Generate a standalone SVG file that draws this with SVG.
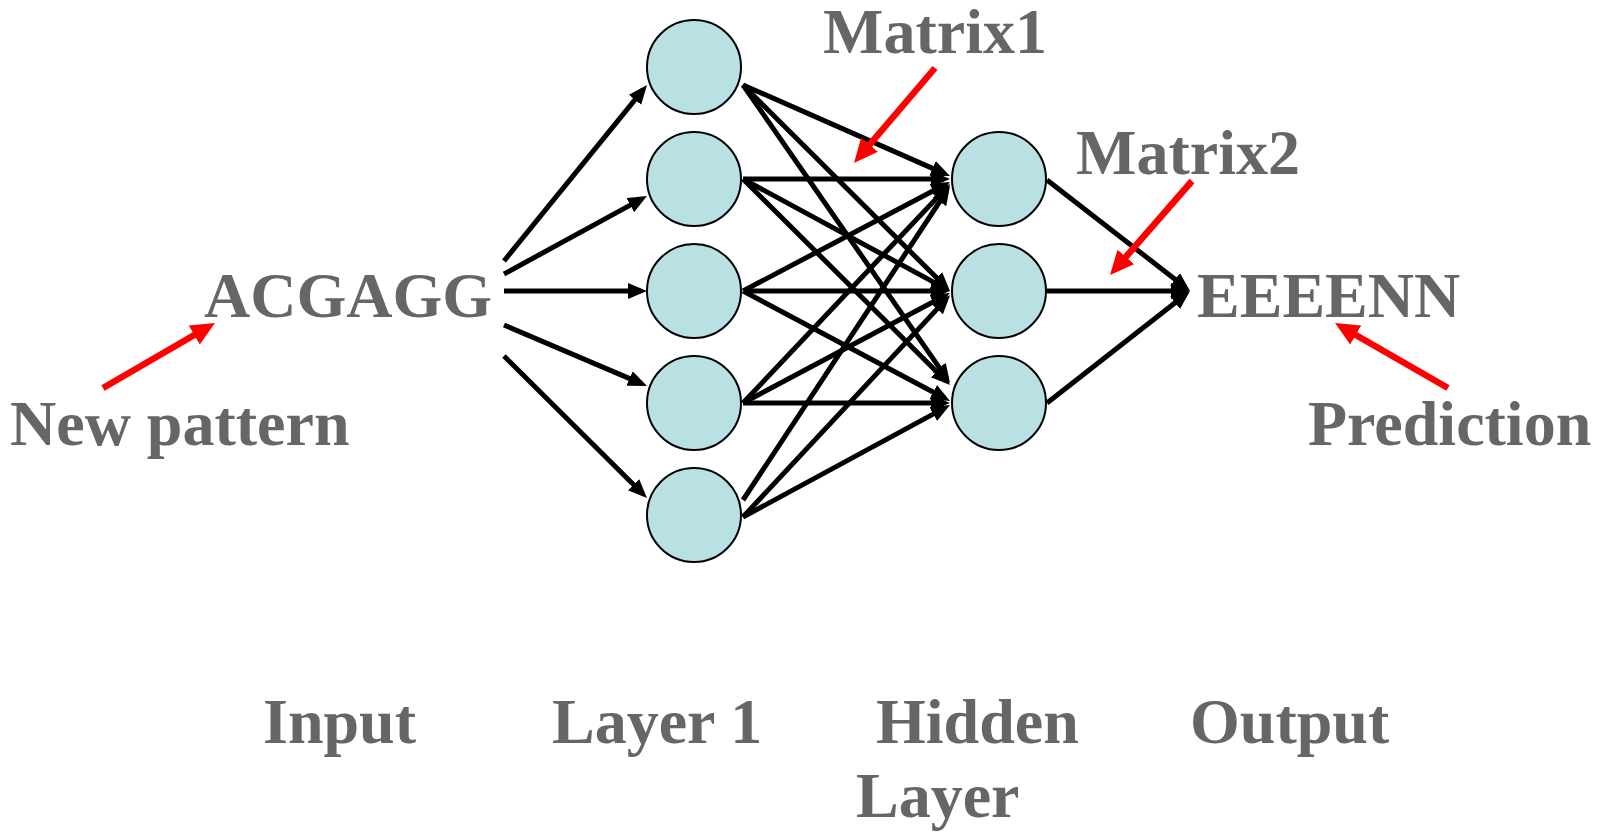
<svg xmlns="http://www.w3.org/2000/svg" width="1602" height="832" viewBox="0 0 1602 832">
<style>
.bg{fill:#ffffff}
.node{fill:#b9e0e3;stroke:#000000;stroke-width:2}
.lbl{font-family:"Liberation Serif","Times New Roman",serif;font-weight:bold;font-size:64px;fill:#666666}
.edge{stroke:#000000;stroke-width:5;fill:none;marker-end:url(#ah)}
.note{stroke:#ff0000;stroke-width:6.5;fill:none;marker-end:url(#rh)}
</style>
<defs>
<marker id="ah" markerUnits="userSpaceOnUse" markerWidth="22" markerHeight="18" refX="13" refY="8" orient="auto"><path d="M0,0 L19,8 L0,16 z" fill="#000000"/></marker>
<marker id="rh" markerUnits="userSpaceOnUse" markerWidth="26" markerHeight="24" refX="16" refY="11" orient="auto"><path d="M0,0 L24,11 L0,22 z" fill="#ff0000"/></marker>
</defs>
<rect class="bg" x="0" y="0" width="1602" height="832"/>
<g id="connectors">
<line class="edge" x1="504" y1="261" x2="643.2" y2="89.7"/>
<line class="edge" x1="504" y1="274" x2="641.7" y2="198.9"/>
<line class="edge" x1="504" y1="291" x2="641" y2="291"/>
<line class="edge" x1="504" y1="325" x2="641.5" y2="383.6"/>
<line class="edge" x1="504" y1="356" x2="642.7" y2="493.8"/>
<line class="edge" x1="743" y1="85" x2="944.5" y2="173.6"/>
<line class="edge" x1="743" y1="85" x2="945.7" y2="286.8"/>
<line class="edge" x1="743" y1="85" x2="946.6" y2="378.1"/>
<line class="edge" x1="743" y1="179" x2="944" y2="179"/>
<line class="edge" x1="743" y1="179" x2="944.7" y2="288.1"/>
<line class="edge" x1="743" y1="179" x2="945.7" y2="380.8"/>
<line class="edge" x1="743" y1="291" x2="944.7" y2="184.8"/>
<line class="edge" x1="743" y1="291" x2="944" y2="291"/>
<line class="edge" x1="743" y1="291" x2="944.7" y2="398.2"/>
<line class="edge" x1="743" y1="403" x2="945.9" y2="188.4"/>
<line class="edge" x1="743" y1="403" x2="944.7" y2="295.8"/>
<line class="edge" x1="743" y1="403" x2="944" y2="403"/>
<line class="edge" x1="743" y1="500" x2="946.7" y2="191"/>
<line class="edge" x1="743" y1="517" x2="945.9" y2="299.6"/>
<line class="edge" x1="743" y1="517" x2="944.7" y2="407.9"/>
<line class="edge" x1="1047" y1="180" x2="1185.3" y2="287.3"/>
<line class="edge" x1="1047" y1="291" x2="1184" y2="291"/>
<line class="edge" x1="1047" y1="403" x2="1185.3" y2="294.7"/>
<line class="note" x1="103" y1="388" x2="208.1" y2="327"/>
<line class="note" x1="935" y1="68" x2="859.2" y2="156.9"/>
<line class="note" x1="1192" y1="181" x2="1115.3" y2="269"/>
<line class="note" x1="1448" y1="388" x2="1341.9" y2="327"/>
</g>
<g id="layer1-n1"><circle class="node" cx="694" cy="67" r="47"/></g>
<g id="layer1-n2"><circle class="node" cx="694" cy="179" r="47"/></g>
<g id="layer1-n3"><circle class="node" cx="694" cy="291" r="47"/></g>
<g id="layer1-n4"><circle class="node" cx="694" cy="403" r="47"/></g>
<g id="layer1-n5"><circle class="node" cx="694" cy="515" r="47"/></g>
<g id="hidden-n1"><circle class="node" cx="999" cy="179" r="47"/></g>
<g id="hidden-n2"><circle class="node" cx="999" cy="291" r="47"/></g>
<g id="hidden-n3"><circle class="node" cx="999" cy="403" r="47"/></g>
<g id="input-text"><text class="lbl" x="204" y="317">ACGAGG</text></g>
<g id="output-text"><text class="lbl" x="1197" y="317">EEEENN</text></g>
<g id="matrix1"><text class="lbl" x="823" y="53">Matrix1</text></g>
<g id="matrix2"><text class="lbl" x="1076" y="174">Matrix2</text></g>
<g id="new-pattern"><text class="lbl" x="10" y="445">New pattern</text></g>
<g id="prediction"><text class="lbl" x="1308" y="445">Prediction</text></g>
<g id="col-input"><text class="lbl" x="263" y="743">Input</text></g>
<g id="col-layer1"><text class="lbl" x="552" y="743">Layer 1</text></g>
<g id="col-hidden"><text class="lbl" x="876" y="743">Hidden</text><text class="lbl" x="856" y="817">Layer</text></g>
<g id="col-output"><text class="lbl" x="1190" y="743">Output</text></g>
</svg>
